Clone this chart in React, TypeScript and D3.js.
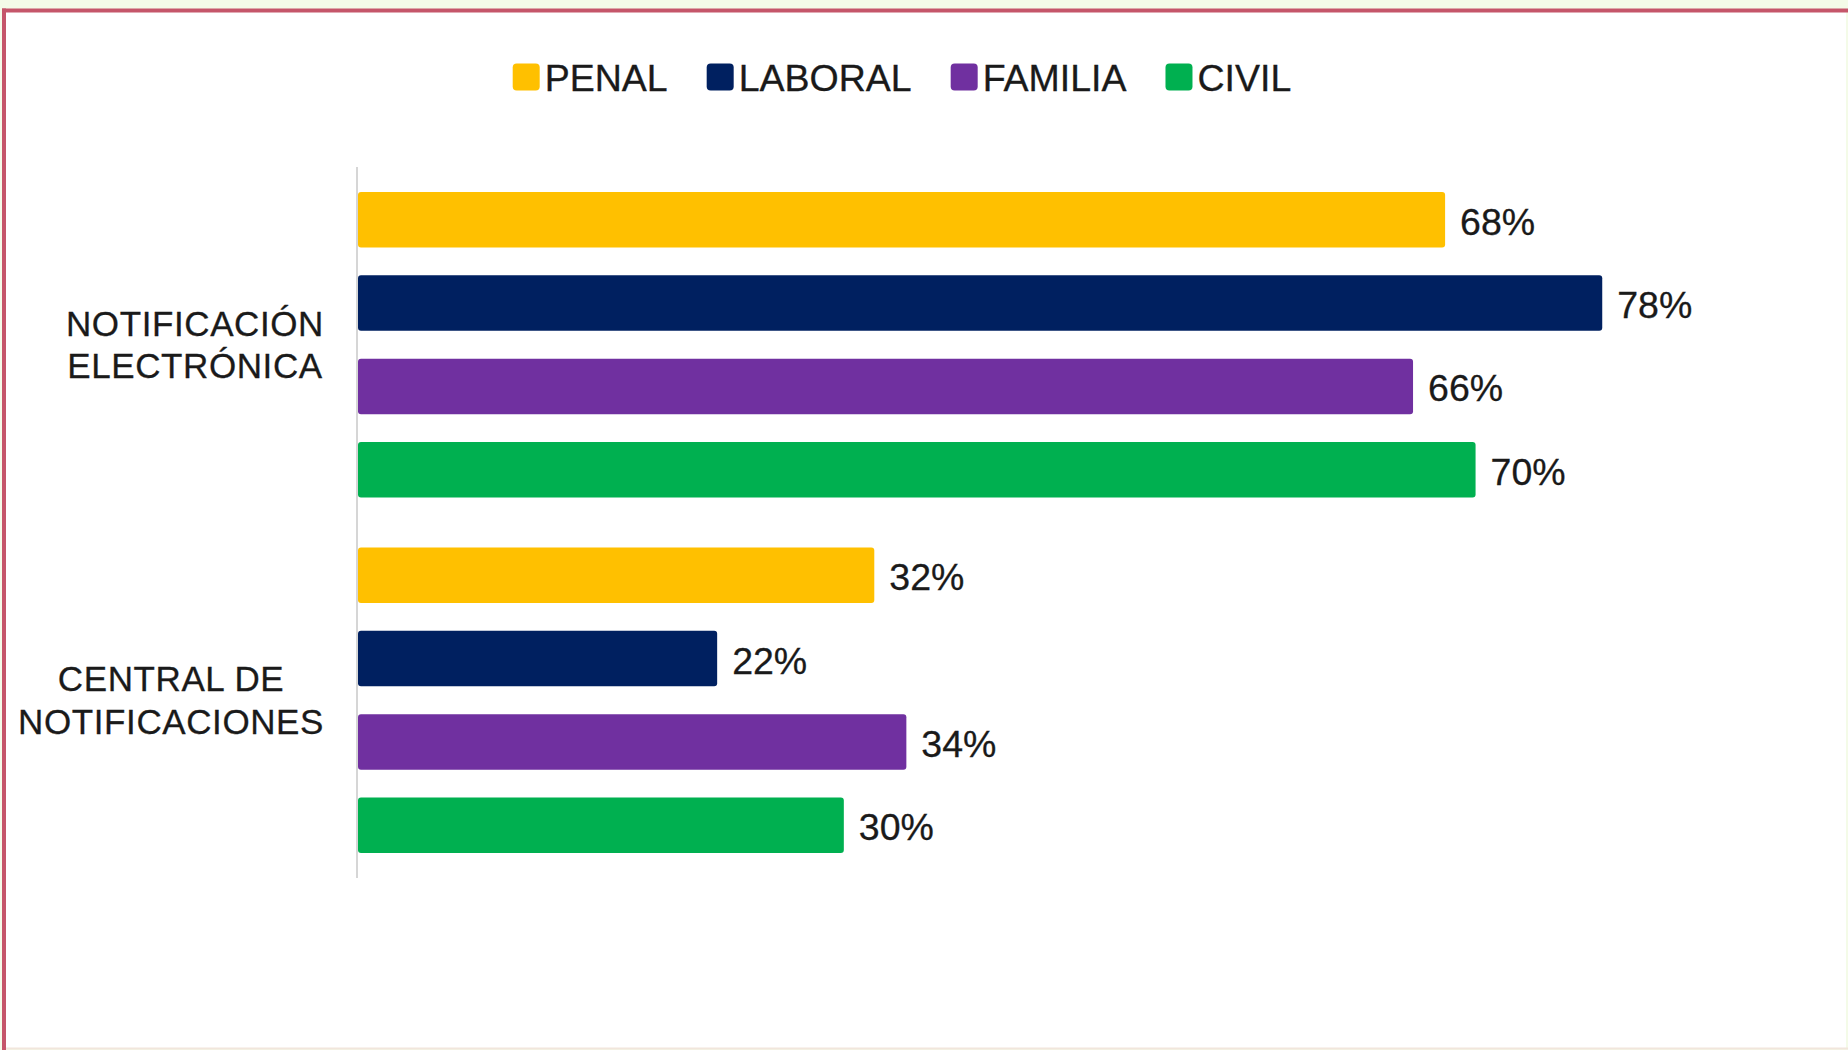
import React, { useEffect, useRef } from "react";
import * as d3 from "d3";

const categories = ["NOTIFICACIÓN ELECTRÓNICA", "CENTRAL DE NOTIFICACIONES"];
const categoryLines = [
  ["NOTIFICACIÓN", "ELECTRÓNICA"],
  ["CENTRAL DE", "NOTIFICACIONES"],
];
const seriesNames = ["PENAL", "LABORAL", "FAMILIA", "CIVIL"];
const seriesColors = ["#FFC000", "#002060", "#7030A0", "#00B050"];
const penal = [0.678, 0.322];
const laboral = [0.776, 0.224];
const familia = [0.658, 0.342];
const civil = [0.697, 0.303];
const seriesValues = [penal, laboral, familia, civil];

const W = 1848;
const H = 1050;
const FONT = "'Liberation Sans', Arial, Helvetica, sans-serif";
const TEXT = "#1A1A1A";

export default function App() {
  const ref = useRef<SVGSVGElement | null>(null);

  useEffect(() => {
    const svg = d3.select(ref.current);
    svg.selectAll("*").remove();

    // background & frame
    svg.append("rect").attr("x", 0).attr("y", 0).attr("width", W).attr("height", H).attr("fill", "#F4FBE8");
    svg.append("rect").attr("x", 4).attr("y", 10.5).attr("width", W - 6).attr("height", H - 12).attr("fill", "#FFFFFF");
    svg.append("line").attr("x1", 2).attr("x2", W).attr("y1", 10.5).attr("y2", 10.5).attr("stroke", "#C5566A").attr("stroke-width", 4);
    svg.append("line").attr("x1", 4).attr("x2", 4).attr("y1", 8.5).attr("y2", H).attr("stroke", "#C5566A").attr("stroke-width", 4);
    svg.append("line").attr("x1", 6).attr("x2", W).attr("y1", H - 1.5).attr("y2", H - 1.5).attr("stroke", "#F1E6DC").attr("stroke-width", 2);

    const x = d3.scaleLinear().domain([0, 1]).range([358, 358 + 1603.4]);
    const y0 = d3.scaleBand<string>().domain(categories).range([167, 878]).padding(0);
    const y1 = d3
      .scaleBand<string>()
      .domain(seriesNames)
      .range([0, y0.bandwidth()])
      .paddingInner(1 / 3)
      .paddingOuter(0.3);

    const fmt = d3.format(".0%");

    const groups = svg
      .append("g")
      .selectAll("g")
      .data(categories)
      .join("g")
      .attr("transform", (d) => `translate(0,${y0(d)})`);

    groups.each(function (cat, ci) {
      const g = d3.select(this);
      seriesNames.forEach((s, si) => {
        const v = seriesValues[si][ci];
        g.append("rect")
          .attr("x", x(0))
          .attr("y", y1(s)!)
          .attr("width", x(v) - x(0))
          .attr("height", y1.bandwidth())
          .attr("rx", 3)
          .attr("fill", seriesColors[si]);
        g.append("text")
          .attr("x", x(v) + 15)
          .attr("y", y1(s)! + y1.bandwidth() / 2 + 15)
          .attr("font-family", FONT)
          .attr("font-size", 37.5)
          .attr("fill", TEXT)
          .attr("stroke", TEXT)
          .attr("stroke-width", 0.3)
          .text(fmt(v));
      });
    });

    // axis line
    svg
      .append("line")
      .attr("x1", 357)
      .attr("x2", 357)
      .attr("y1", y0.range()[0])
      .attr("y2", y0.range()[1])
      .attr("stroke", "#C8C8C8")
      .attr("stroke-width", 1.5);

    // category labels
    const labelRight = 324;
    categories.forEach((cat, ci) => {
      const cy = y0(cat)! + y0.bandwidth() / 2;
      const lines = categoryLines[ci];
      const texts = lines.map((ln, li) =>
        svg
          .append("text")
          .attr("font-family", FONT)
          .attr("font-size", 35)
          .attr("letter-spacing", 0.6)
          .attr("fill", TEXT)
          .attr("stroke", TEXT)
          .attr("stroke-width", 0.3)
          .attr("text-anchor", "middle")
          .attr("y", cy + (li - (lines.length - 1) / 2) * 42.5 + 12.3)
          .text(ln)
      );
      const maxW = d3.max(texts, (t) => (t.node() as SVGTextElement).getComputedTextLength()) || 0;
      texts.forEach((t) => t.attr("x", labelRight - maxW / 2));
    });

    // legend
    let lx = 512.7;
    const ly = 77;
    seriesNames.forEach((s, si) => {
      svg
        .append("rect")
        .attr("x", lx)
        .attr("y", ly - 13.5)
        .attr("width", 27)
        .attr("height", 27)
        .attr("rx", 4)
        .attr("fill", seriesColors[si]);
      const t = svg
        .append("text")
        .attr("x", lx + 32)
        .attr("y", ly + 14)
        .attr("font-family", FONT)
        .attr("font-size", 37.5)
        .attr("fill", TEXT)
        .attr("stroke", TEXT)
        .attr("stroke-width", 0.3)
        .text(s);
      const w = (t.node() as SVGTextElement).getComputedTextLength();
      lx = lx + 32 + w + 39;
    });
  }, []);

  return (
    <div style={{ position: "absolute", left: 0, top: 0, width: W, height: H }}>
      <svg ref={ref} width={W} height={H} style={{ display: "block" }} />
    </div>
  );
}
